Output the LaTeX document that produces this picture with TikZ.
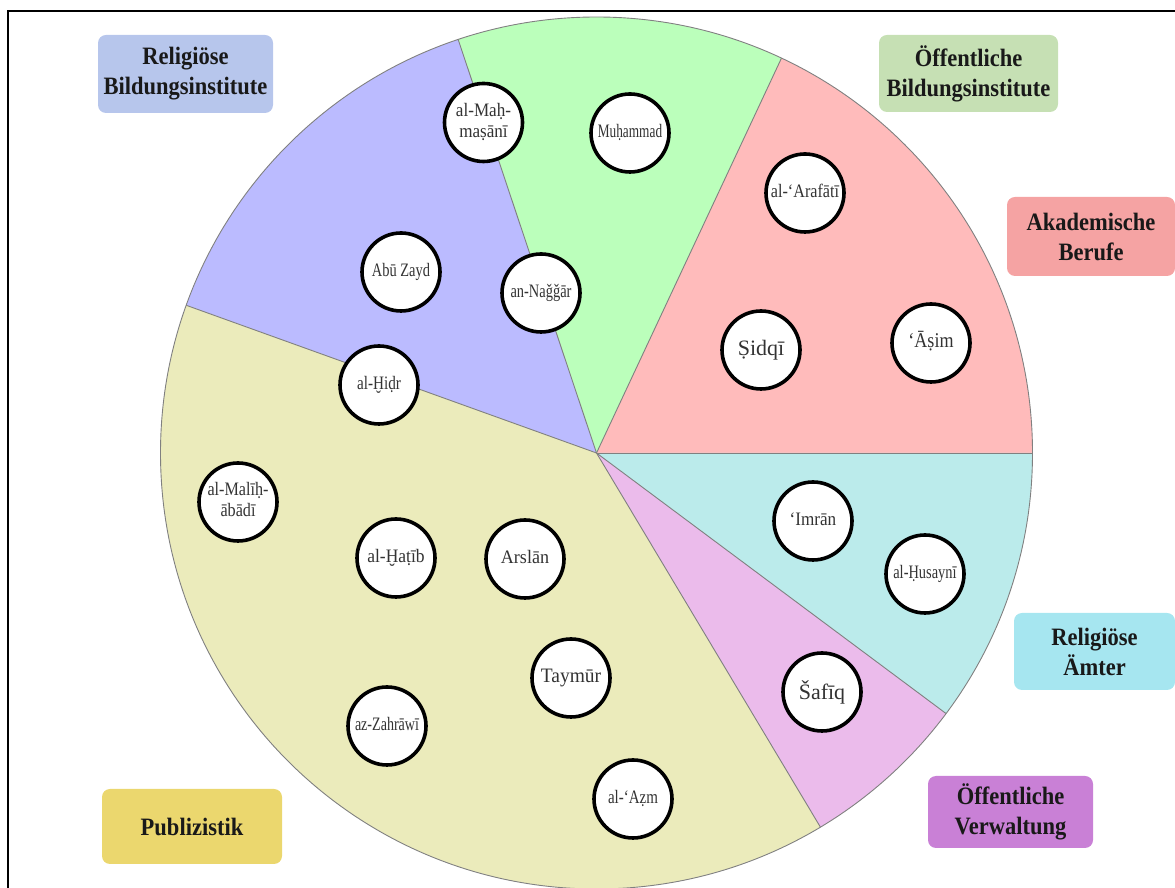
\documentclass[tikz,border=0pt]{standalone}
\usepackage{fontspec}
\setmainfont{Liberation Serif}
\newfontfamily\labfont[FakeStretch=0.9]{Liberation Serif}
\usepackage{graphicx}
% name inside a person disc: horizontal squeeze, centred lines
\newcommand{\nm}[2]{\scalebox{#1}[1]{\begin{tabular}{@{}c@{}}#2\end{tabular}}}

\definecolor{slblue}{HTML}{BBBBFF}
\definecolor{slgreen}{HTML}{BBFFBB}
\definecolor{slred}{HTML}{FFBBBB}
\definecolor{slcyan}{HTML}{BBEBEB}
\definecolor{slmagenta}{HTML}{EBBBEB}
\definecolor{slyellow}{HTML}{EBEBBB}
\definecolor{lbblue}{HTML}{B7C6EC}
\definecolor{lbgreen}{HTML}{C6E0B4}
\definecolor{lbred}{HTML}{F5A3A3}
\definecolor{lbcyan}{HTML}{A6E6F0}
\definecolor{lbpurple}{HTML}{C980D6}
\definecolor{lbgold}{HTML}{EBD76E}
\definecolor{nametext}{HTML}{333333}
\definecolor{edgegray}{HTML}{808080}

\begin{document}
\begin{tikzpicture}[x=1pt,y=1pt,
  edge/.style={draw=edgegray,line width=0.9pt},
  person/.style={circle,draw=black,line width=3.6pt,fill=white,
    minimum size=78pt,inner sep=0pt,text=nametext,
    font=\fontsize{19}{21}\selectfont},
  category/.style={rounded corners=8pt,inner sep=0pt,align=center,
    text=black!90,font=\labfont\bfseries\fontsize{25}{30}\selectfont}]
\useasboundingbox (0,0) rectangle (1175,888);

% frame
\draw[line width=2pt] (8,-10) -- (8,877) -- (1190,877);

% pie
\coordinate (c) at (596.5,435);
\def\R{436}
\fill[slred]     (c) -- ++(0:\R)     arc[start angle=0,end angle=64.9,radius=\R] -- cycle;
\fill[slgreen]   (c) -- ++(64.9:\R)  arc[start angle=64.9,end angle=108.5,radius=\R] -- cycle;
\fill[slblue]    (c) -- ++(108.5:\R) arc[start angle=108.5,end angle=160.2,radius=\R] -- cycle;
\fill[slyellow]  (c) -- ++(160.2:\R) arc[start angle=160.2,end angle=300.9,radius=\R] -- cycle;
\fill[slmagenta] (c) -- ++(300.9:\R) arc[start angle=300.9,end angle=323.3,radius=\R] -- cycle;
\fill[slcyan]    (c) -- ++(323.3:\R) arc[start angle=323.3,end angle=360,radius=\R] -- cycle;
\foreach \a in {0,64.9,108.5,160.2,300.9,323.3}
  \draw[edge] (c) -- ++(\a:\R);
\draw[edge] (c) circle[radius=\R];

% category labels
\node[category,fill=lbblue,minimum width=175pt,minimum height=78pt] (relbild) at (185.5,814) {Religiöse\\Bildungsinstitute};
\node[category,fill=lbgreen,minimum width=179pt,minimum height=77pt] (oeffbild) at (968.5,814.5) {Öffentliche\\Bildungsinstitute};
\node[category,fill=lbred,minimum width=168pt,minimum height=79pt] (akad) at (1091,651.5) {Akademische\\Berufe};
\node[category,fill=lbcyan,minimum width=161pt,minimum height=77pt] (relamt) at (1094.5,236.5) {Religiöse\\Ämter};
\node[category,fill=lbpurple,minimum width=165pt,minimum height=72pt] (verw) at (1010.5,76) {Öffentliche\\Verwaltung};
\node[category,fill=lbgold,minimum width=180pt,minimum height=75pt] (publ) at (192,61.5) {Publizistik};

% persons
\node[person] (mahmasani) at (483.5,765.5) {\nm{0.9}{al-Maḥ-\\maṣānī}};
\node[person] (muhammad)  at (630,755)     {\nm{0.7}{Muḥammad}};
\node[person] (arafati)   at (805,695)     {\nm{0.85}{al-‘Arafātī}};
\node[person] (abuzayd)   at (401,616)     {\nm{0.76}{Abū Zayd}};
\node[person] (najjar)    at (541,595)     {\nm{0.76}{an-Naǧǧār}};
\node[person,font=\fontsize{22}{24}\selectfont] (sidqi) at (761,538) {Ṣidqī};
\node[person,font=\fontsize{21}{23}\selectfont] (asim)  at (931,545) {\nm{0.86}{‘Āṣim}};
\node[person] (hidr)      at (379,503)     {\nm{0.8}{al-Ḫiḍr}};
\node[person] (malih)     at (238,386)     {\nm{0.85}{al-Malīḥ-\\ābādī}};
\node[person] (hatib)     at (396,330)     {\nm{0.92}{al-Ḫaṭīb}};
\node[person] (arslan)    at (525,329)     {\nm{0.95}{Arslān}};
\node[person] (imran)     at (813,367)     {\nm{0.9}{‘Imrān}};
\node[person] (husayni)   at (925,314)     {\nm{0.76}{al-Ḥusaynī}};
\node[person,font=\fontsize{22}{24}\selectfont] (safiq) at (822,196) {Šafīq};
\node[person,font=\fontsize{20.5}{22}\selectfont] (taymur) at (571,210) {\nm{0.95}{Taymūr}};
\node[person] (zahrawi)   at (387,162)     {\nm{0.74}{az-Zahrāwī}};
\node[person] (azm)       at (633,89)      {\nm{0.79}{al-‘Aẓm}};
\end{tikzpicture}
\end{document}
